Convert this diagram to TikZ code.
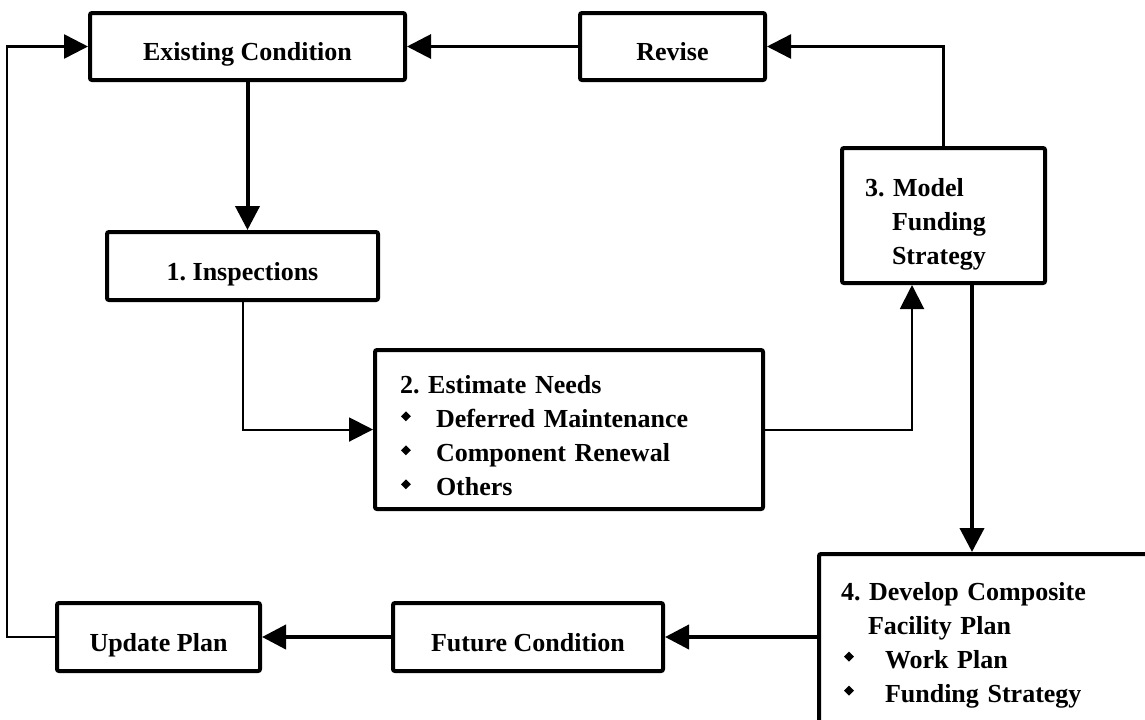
\documentclass[tikz,border=0pt]{standalone}
\usepackage{fontspec}
\setmainfont{Liberation Serif}
\usetikzlibrary{arrows.meta,positioning,calc}
\newcommand{\itm}[2][18pt]{\makebox[#1][l]{\hspace{#2}\raisebox{3.3pt}{\rotatebox{45}{\rule{3.5pt}{3.5pt}}}}}

\begin{document}
\frenchspacing
\begin{tikzpicture}[x=0.5pt,y=-0.5pt,
    box/.style={rectangle, draw, line width=2pt, rounded corners=1pt, fill=white, inner sep=0pt,
        font=\fontsize{13}{17}\selectfont\bfseries\frenchspacing},
    textbox/.style={box, text height=14pt, text depth=0pt},
    listbox/.style={box, align=left, inner xsep=#1},
    link/.style={line width=1pt, -{Triangle[length=12pt,width=12pt]}},
    heavy/.style={link, line width=2pt}
]
    \useasboundingbox (0,0) rectangle (1145,719);

    % top row
    \node[textbox, minimum width=157.5pt, minimum height=33.5pt] (exist) at (247.5,46.5) {Existing Condition};
    \node[textbox, minimum width=92.5pt, minimum height=33.5pt] (revise) at (672.5,46.5) {Revise};

    % steps
    \node[textbox, minimum width=135.5pt, minimum height=34pt] (insp) at (242.5,266) {1. Inspections};
    \node[listbox=12.5pt, text width=169pt, minimum height=79.5pt] (est) at (569,429.5) {
        \rule{0pt}{15.5pt}2. Estimate Needs\\
        \itm{0.5pt}Deferred Maintenance\\
        \itm{0.5pt}Component Renewal\\
        \itm{0.5pt}Others
    };
    \node[listbox=11.5pt, text width=78.5pt, minimum height=67.5pt] (model) at (943.5,215.5) {
        \rule{0pt}{17.5pt}3. Model\\
        \hspace*{13.5pt}Funding\\
        \hspace*{13.5pt}Strategy
    };
    \node[listbox=11pt, text width=149.5pt, minimum height=91pt, anchor=north west] (dev) at (817,552) {
        4. Develop Composite\\
        \hspace*{13.5pt}Facility Plan\\
        \itm[22pt]{1.5pt}Work Plan\\
        \itm[22pt]{1.5pt}Funding Strategy
    };

    % bottom row
    \node[textbox, minimum width=135pt, minimum height=34pt] (future) at (528,637) {Future Condition};
    \node[textbox, minimum width=101.5pt, minimum height=34pt] (update) at (158.5,637) {Update Plan};

    \coordinate (mrise) at ($(model.south)+(-31.5,0)$);
    \coordinate (mdrop) at ($(model.south)+(28.5,0)$);
    \coordinate (back) at (7,46.5);

    % connectors
    \draw[heavy] (exist.south) -- (exist.south |- insp.north);
    \draw[link] (insp.south) |- (est.west);
    \draw[link] (est.east) -| (mrise);
    \draw[link, line width=1.2pt] (model.north) |- (revise.east);
    \draw[link, line width=1.5pt] (revise.west) -- (exist.east);
    \draw[heavy] (mdrop) -- (mdrop |- dev.north);
    \draw[heavy] (future.east -| dev.west) -- (future.east);
    \draw[heavy] (future.west) -- (update.east);
    \draw[link, line width=1.3pt] (update.west) -| (back) -- (exist.west);
\end{tikzpicture}
\end{document}
